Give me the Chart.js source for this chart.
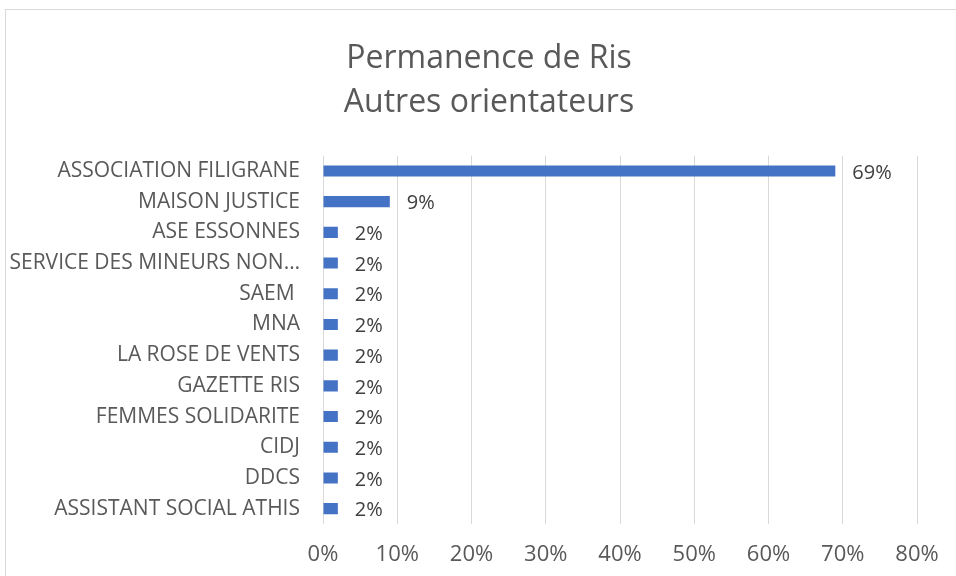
<!DOCTYPE html>
<html lang="fr">
<head>
    <meta charset="UTF-8">
    <title>Permanence de Ris - Autres orientateurs</title>
    <script src="https://cdn.jsdelivr.net/npm/chart.js"></script>
    <style>
        body { margin: 0; background: #fff; overflow: hidden; }
        #wrap { position: relative; width: 956px; height: 576px; overflow: hidden; }
        #frame { position: absolute; left: 5px; top: 9px; width: 968px; height: 580px; border: 1px solid #d9d9d9; }
        #chart { position: absolute; left: 0; top: 0; }
    </style>
</head>
<body>
    <div id="wrap">
        <div id="frame"></div>
        <canvas id="chart" width="978" height="576"></canvas>
    </div>

    <script>
        // Data
        const categories = [
            'ASSOCIATION FILIGRANE',
            'MAISON JUSTICE',
            'ASE ESSONNES',
            'SERVICE DES MINEURS NON\u2026',
            'SAEM ',
            'MNA',
            'LA ROSE DE VENTS',
            'GAZETTE RIS',
            'FEMMES SOLIDARITE',
            'CIDJ',
            'DDCS',
            'ASSISTANT SOCIAL ATHIS'
        ];
        const shares = [69, 9, 2, 2, 2, 2, 2, 2, 2, 2, 2, 2];
        const titleLines = ['Permanence de Ris', 'Autres orientateurs'];

        const FONT = "'Open Sans', sans-serif";

        // value labels next to each bar
        const barLabels = {
            id: 'barLabels',
            afterDatasetsDraw(chart) {
                const ctx = chart.ctx;
                const meta = chart.getDatasetMeta(0);
                ctx.save();
                ctx.font = '20px ' + FONT;
                ctx.fillStyle = '#404040';
                ctx.textAlign = 'left';
                ctx.textBaseline = 'middle';
                meta.data.forEach((bar, i) => {
                    ctx.fillText(shares[i] + '%', bar.x + 17, bar.y + 2);
                });
                ctx.restore();
            }
        };

        new Chart(document.getElementById('chart').getContext('2d'), {
            type: 'bar',
            data: {
                labels: categories,
                datasets: [{
                    data: shares,
                    backgroundColor: '#4472c4',
                    barPercentage: 0.72,
                    categoryPercentage: 0.5
                }]
            },
            options: {
                indexAxis: 'y',
                responsive: false,
                animation: false,
                layout: { padding: 0 },
                plugins: {
                    legend: { display: false },
                    tooltip: { enabled: false },
                    title: {
                        display: true,
                        text: titleLines,
                        color: '#595959',
                        font: { family: FONT, size: 32, weight: 'normal', lineHeight: 1.4 },
                        padding: { top: 36, bottom: 30 }
                    }
                },
                scales: {
                    x: {
                        min: 0,
                        max: 80,
                        // fixed height + right gap so the plot ends at the 80% line
                        afterFit: scale => { scale.height = 52; scale.paddingRight = 61; },
                        ticks: {
                            stepSize: 10,
                            color: '#595959',
                            font: { family: FONT, size: 22 },
                            padding: 18,
                            callback: v => v + '%'
                        },
                        grid: { color: '#d9d9d9', lineWidth: 1, drawTicks: false },
                        border: { display: false }
                    },
                    y: {
                        afterFit: scale => { scale.width = 323; },
                        ticks: {
                            color: '#595959',
                            font: { family: FONT, size: 21 },
                            padding: 23
                        },
                        grid: { display: false, drawTicks: false },
                        border: { display: false }
                    }
                }
            },
            plugins: [barLabels]
        });
    </script>
</body>
</html>
